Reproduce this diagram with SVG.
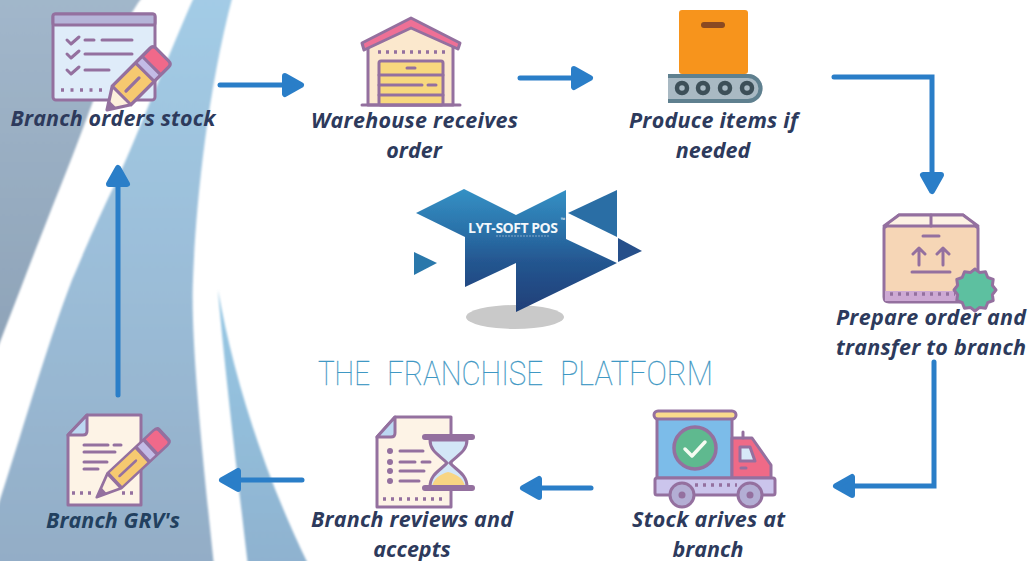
<svg xmlns="http://www.w3.org/2000/svg" xmlns:xlink="http://www.w3.org/1999/xlink" width="1029" height="561" viewBox="0 0 1029 561">
<style>
.lb{font-family:"Open Sans","Liberation Sans",sans-serif;font-weight:700;font-style:italic;font-size:21.5px;fill:#2d3a5c;text-anchor:middle}
.o{stroke:#94709f;stroke-width:3;stroke-linejoin:round;stroke-linecap:round}
.l{fill:none;stroke:#94709f;stroke-width:3;stroke-linecap:round;stroke-linejoin:round}
.d{fill:none;stroke:#94709f;stroke-width:3.5;stroke-dasharray:3 6.5}
.c{fill:none;stroke:#2a7ec8;stroke-width:5;stroke-linecap:round;stroke-linejoin:miter;marker-end:url(#ah)}
</style>
<defs>
<linearGradient id="gb" x1="0" y1="0" x2="0" y2="1"><stop offset="0" stop-color="#a3cce6"/><stop offset=".5" stop-color="#9bbdd8"/><stop offset="1" stop-color="#93adc6"/></linearGradient>
<linearGradient id="gg" x1="0" y1="0" x2="0" y2="1"><stop offset="0" stop-color="#a2b7cb"/><stop offset="1" stop-color="#8ea3b8"/></linearGradient>
<linearGradient id="gs" x1="0" y1="0" x2="0" y2="1"><stop offset="0" stop-color="#96c8e5"/><stop offset="1" stop-color="#8fb2cf"/></linearGradient>
<linearGradient id="gl" gradientUnits="userSpaceOnUse" x1="0" y1="190" x2="0" y2="312"><stop offset="0" stop-color="#3490c4"/><stop offset=".35" stop-color="#2a70a8"/><stop offset=".6" stop-color="#24558f"/><stop offset="1" stop-color="#1f3f78"/></linearGradient>
<filter id="b1" x="-5%" y="-5%" width="110%" height="110%"><feGaussianBlur stdDeviation="1.2"/></filter>
<filter id="b2" x="-5%" y="-5%" width="110%" height="110%"><feGaussianBlur stdDeviation=".6"/></filter>
<marker id="ah" markerUnits="userSpaceOnUse" markerWidth="26" markerHeight="30" viewBox="0 0 26 30" refX="3" refY="15" orient="auto">
<path d="M3,6 L19,15 L3,24Z" fill="#2a7ec8" stroke="#2a7ec8" stroke-width="6" stroke-linejoin="round"/>
</marker>
<g id="pencil">
<path d="M0,0 L20,-12 V12Z" fill="#fdf0dc"/>
<path d="M0,0 L8,-5 V5Z" fill="#94709f"/>
<rect x="20" y="-12" width="32" height="24" fill="#f6c970"/>
<rect x="52" y="-12" width="9" height="24" fill="#c3bbe6"/>
<path d="M61,-12 H72 Q76,-12 76,-8 V8 Q76,12 72,12 H61Z" fill="#f0698a"/>
<path class="l" d="M0,0 L20,-12 H72 Q76,-12 76,-8 V8 Q76,12 72,12 H20Z M20,-12 V12 M52,-12 V12 M61,-12 V12 M26,0 H44"/>
</g>
</defs>
<rect width="1029" height="561" fill="#fff"/>
<g filter="url(#b1)">
<path d="M-5,-5 H144 C115,30 88,120 63,180 C45,225 20,290 -5,355Z" fill="url(#gg)"/>
<path d="M195,-5 C170,50 140,130 117,180 C95,225 85,250 72,280 C45,350 20,440 -5,515 V566 H214 C205,480 190,340 193,280 C195,220 205,100 233,-5Z" fill="url(#gb)"/>
<path d="M218,290 C222,340 232,430 248,566 H309 C262,470 232,370 218,290Z" fill="url(#gs)"/>
</g>
<g id="connectors" filter="url(#b2)">
<path class="c" d="M220,85 H285"/>
<path class="c" d="M520,78 H574"/>
<path class="c" d="M834,77 H932 V175"/>
<path class="c" d="M934,362 V486 H852"/>
<path class="c" d="M591,488 H539"/>
<path class="c" d="M302,480 H238"/>
<path class="c" d="M118,395 V184"/>
</g>
<g id="node-orders">
<g filter="url(#b2)">
<rect class="o" x="53" y="14" width="102" height="86" rx="3" fill="#dfecf9"/>
<rect class="o" x="53" y="14" width="102" height="11" rx="2" fill="#b5b4d8"/>
<path class="l" d="M67,40 l4,4 l8,-7 M67,54 l4,4 l8,-7 M67,70 l4,4 l8,-7 M85,40 H94 M102,40 H132 M85,54 H132 M85,70 H109"/>
<path class="d" d="M61,90 H108"/>
<use xlink:href="#pencil" href="#pencil" transform="translate(107,110) rotate(-45) scale(1.03,1.1)"/>
</g>
<text class="lb" x="113" y="126" textLength="205">Branch orders stock</text>
</g>
<g id="node-warehouse">
<g filter="url(#b2)">
<path class="o" d="M368,105 V46 L411,26 L453,46 V105Z" fill="#fbe8cd"/>
<path class="d" d="M378,52 H447" style="stroke-dasharray:3 5"/>
<rect class="o" x="379" y="61" width="64" height="44" rx="2" fill="#f8d87e"/>
<path class="l" d="M379,75 H443 M379,85 H422 M428,85 H436 M379,95 H443 M407,68 H415 M362,105 H460"/>
<path class="o" d="M362,43 L411,18 L460,43 L458,49 L411,28 L364,50Z" fill="#ee6f96"/>
</g>
<text class="lb" x="414.500" y="128" textLength="207">Warehouse receives</text>
<text class="lb" x="414" y="158">order</text>
</g>
<g id="node-produce">
<g filter="url(#b2)">
<rect x="679" y="10" width="69" height="64" rx="3" fill="#f7941d"/>
<path d="M704,25 H722" stroke="#8a4a20" stroke-width="6" stroke-linecap="round"/>
<path d="M668,74 H748 A14.500,14.500 0 0 1 748,103 H668Z" fill="#a9b9c3"/>
<path d="M668,76 H748 A12.500,12.500 0 0 1 748,101 H668" fill="none" stroke="#5f808f" stroke-width="4"/>
<g fill="#a9b9c3" stroke="#3c4f58" stroke-width="4.500"><circle cx="682" cy="88" r="5"/><circle cx="703" cy="88" r="5"/><circle cx="725" cy="88" r="5"/><circle cx="747" cy="88" r="5"/></g>
</g>
<text class="lb" x="713.500" y="128" textLength="169">Produce items if</text>
<text class="lb" x="713" y="158">needed</text>
</g>
<g id="node-prepare">
<g filter="url(#b2)">
<path class="o" d="M884,228 L899,215 H963 L978,228 V297 Q978,302 973,302 H889 Q884,302 884,297Z" fill="#f6d6b6"/>
<path class="o" d="M884,226 L899,215 H963 L978,226Z" fill="#fdf2e4"/>
<path d="M885,291 H977 V301 H885Z" fill="#cda9d4"/>
<path class="l" d="M931,215 V226 M923,236 H939 M912,272 H950 M919,265 V248 M913,254 L919,248 L925,254 M943,265 V248 M937,254 L943,248 L949,254"/>
<path class="d" d="M890,294 H955" style="stroke-dasharray:3 5"/>
<polygon class="o" transform="translate(975,290)" fill="#5dc0a0" points="21,0 17.400,4.700 18.200,10.500 12.700,12.700 10.500,18.200 4.700,17.400 0,21 -4.700,17.400 -10.500,18.200 -12.700,12.700 -18.200,10.500 -17.400,4.700 -21,0 -17.400,-4.700 -18.200,-10.500 -12.700,-12.700 -10.500,-18.200 -4.700,-17.400 0,-21 4.700,-17.400 10.500,-18.200 12.700,-12.700 18.200,-10.500 17.400,-4.700"/>
</g>
<text class="lb" x="931" y="325" textLength="190">Prepare order and</text>
<text class="lb" x="931" y="355" textLength="190">transfer to branch</text>
</g>
<g id="node-stock">
<g filter="url(#b2)">
<rect class="o" x="657" y="418" width="75" height="60" fill="#7cbce9"/>
<rect class="o" x="654" y="411" width="82" height="8" rx="4" fill="#f9da8c"/>
<circle cx="695" cy="448" r="21" fill="#5fb98f" stroke="#94709f" stroke-width="3.500"/>
<path d="M685,449 L692,456 L705,442" fill="none" stroke="#f5fbf2" stroke-width="3.500" stroke-linecap="round" stroke-linejoin="round"/>
<path class="o" d="M732,438 H752 L771,465 V478 H732Z" fill="#ef6a87"/>
<path class="o" d="M740,447 H750 L755,461 H740Z" fill="#d7e9f8"/>
<path class="l" d="M743,432 V438 M741,468 H746"/>
<rect class="o" x="655" y="478" width="120" height="17" rx="2" fill="#cbc5ec"/>
<path class="d" d="M695,485 H737" style="stroke-dasharray:3 5"/>
<circle class="o" cx="682" cy="495" r="12" fill="#b3aed4"/><circle cx="682" cy="495" r="3.500" fill="#94709f"/>
<circle class="o" cx="750" cy="495" r="12" fill="#b3aed4"/><circle cx="750" cy="495" r="3.500" fill="#94709f"/>
</g>
<text class="lb" x="708.500" y="527" textLength="153">Stock arives at</text>
<text class="lb" x="708" y="557">branch</text>
</g>
<g id="node-reviews">
<g filter="url(#b2)">
<path class="o" d="M377,437 L395,417 H451 V507 H377Z" fill="#fdf3e6"/>
<path class="o" d="M377,437 L395,417 V433 Q395,437 391,437Z" fill="#bcd8f2"/>
<g fill="#94709f"><circle cx="390" cy="451" r="3"/><circle cx="390" cy="462" r="3"/><circle cx="390" cy="471" r="3"/><circle cx="390" cy="481" r="3"/></g>
<path class="l" d="M400,451 H423 M400,462 H415 M422,462 H430 M400,471 H424 M400,481 H419"/>
<path class="d" d="M383,499 H444" style="stroke-dasharray:3 5"/>
<path class="o" d="M430,440 H467 C467,452 456,456 450,463 C456,470 467,474 467,487 H430 C430,474 441,470 447,463 C441,456 430,452 430,440Z" fill="#d3e6f7"/>
<path d="M432,486 C434,478 441,474 448,472 C456,474 463,478 465,486Z" fill="#f8d583"/>
<path class="l" d="M425,437 H472 M425,488 H472" style="stroke-width:6"/>
</g>
<text class="lb" x="412" y="527" textLength="202">Branch reviews and</text>
<text class="lb" x="412" y="557">accepts</text>
</g>
<g id="node-grv">
<g filter="url(#b2)">
<path class="o" d="M68,435 L87,415 H141 V505 H68Z" fill="#fdf3e6"/>
<path class="o" d="M68,435 L87,415 V431 Q87,435 83,435Z" fill="#bcd8f2"/>
<path class="l" d="M84,445 H108 M114,445 H121 M84,452 H115 M84,462 H107 M84,469 H98"/>
<path class="d" d="M72,493 H96 M122,493 H134" style="stroke-dasharray:3 5"/>
<use xlink:href="#pencil" href="#pencil" transform="translate(97,497) rotate(-43) scale(1.2,.85)"/>
</g>
<text class="lb" x="113" y="528" textLength="134" style="fill:#22405f">Branch GRV's</text>
</g>
<g id="logo">
<g filter="url(#b2)">
<ellipse cx="515" cy="317" rx="49" ry="12" fill="#c9c9c9"/>
<polygon fill="url(#gl)" points="416,213 464,189 516,215 566,190 566,239 617,263 516,312 516,263 465,287 465,237"/>
<polygon fill="#2a78ab" points="414,252 437,263 414,275"/>
<polygon fill="#2b6ea5" points="568,213 617,190 617,237"/>
<polygon fill="#254f8a" points="618,238 642,251 618,262"/>
</g>
<text x="513" y="233" text-anchor="middle" textLength="90" font-family="'Open Sans','Liberation Sans',sans-serif" font-weight="700" font-size="14" fill="#f2f7fb">LYT-SOFT POS</text>
<text x="563" y="222" text-anchor="middle" font-family="'Open Sans','Liberation Sans',sans-serif" font-weight="700" font-size="6" fill="#f2f7fb">™</text>
<path d="M496,236 H549" stroke="#a9c4dc" stroke-width="1.200" stroke-dasharray="2 1" opacity=".7"/>
<text font-family="Roboto,'Liberation Sans',sans-serif" font-weight="100" font-size="34" fill="#3f98c4" stroke="#3f98c4" stroke-width=".3" y="385" lengthAdjust="spacingAndGlyphs"><tspan x="318" textLength="52" lengthAdjust="spacingAndGlyphs">THE</tspan><tspan x="387" textLength="156" lengthAdjust="spacingAndGlyphs">FRANCHISE</tspan><tspan x="560" textLength="153" lengthAdjust="spacingAndGlyphs">PLATFORM</tspan></text>
</g>
</svg>
